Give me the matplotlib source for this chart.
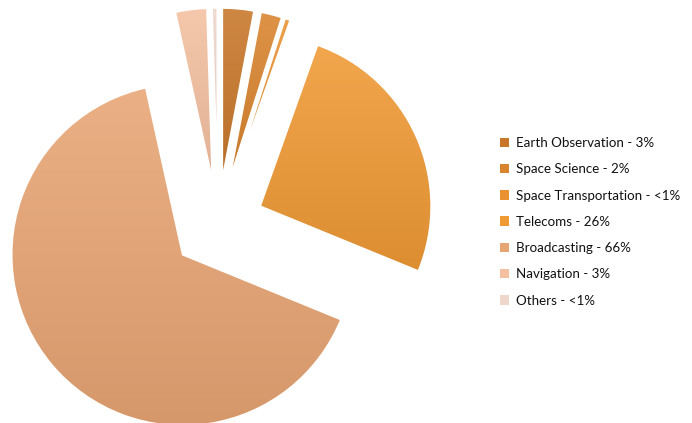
import matplotlib
matplotlib.use("Agg")
import matplotlib.pyplot as plt
import matplotlib.colors as mcolors
from matplotlib.patches import PathPatch
import numpy as np

categories = ["Earth Observation", "Space Science", "Space Transportation",
              "Telecoms", "Broadcasting", "Navigation", "Others"]
values = [3, 2, 0.5, 26, 66, 3, 0.5]
pct_labels = ["3%", "2%", "<1%", "26%", "66%", "3%", "<1%"]

colors = ["#C8772A", "#D9842E", "#EA9231", "#F09A35", "#E8A574", "#F4C0A0", "#EED6CA"]

fig = plt.figure(figsize=(6.92, 4.23), dpi=100)
ax = fig.add_axes([0, 0, 1, 1])
R = 171.0
cx, cy = 218.0, 225.0
xlim = (-cx / R, (692 - cx) / R)
ylim = ((cy - 423) / R, cy / R)

wedges, _ = ax.pie(values, colors=colors, startangle=90, counterclock=False,
                   explode=[0.27] * len(values), radius=1.0, center=(0, 0),
                   wedgeprops=dict(edgecolor="white", linewidth=1.2),
                   frame=True)
ax.set_xlim(*xlim)
ax.set_ylim(*ylim)
ax.set_aspect("auto")
ax.axis("off")

# soft vertical gradient on each wedge (lighter on top, darker at bottom)
for w, c in zip(wedges, colors):
    base = np.array(mcolors.to_rgb(c))
    top = base + (1 - base) * 0.12
    bot = base * 0.92
    t = np.linspace(0, 1, 256)[:, None]
    grad = top[None, :] * (1 - t) + bot[None, :] * t
    img = np.repeat(grad[:, None, :], 2, axis=1)
    verts = w.get_path().vertices
    x0, y0 = verts.min(axis=0)
    x1, y1 = verts.max(axis=0)
    im = ax.imshow(img, extent=(x0, x1, y0, y1), origin="upper",
                   aspect="auto", zorder=2, interpolation="bilinear")
    im.set_clip_path(w)
    ax.add_patch(PathPatch(w.get_path(), transform=w.get_transform(),
                           fill=False, edgecolor="white", linewidth=1.2,
                           zorder=3))

ax.set_xlim(*xlim)
ax.set_ylim(*ylim)
ax.set_aspect("auto")
ax.axis("off")

labels = [f"{c} - {p}" for c, p in zip(categories, pct_labels)]
leg = fig.legend(wedges, labels, loc="upper left",
                 bbox_to_anchor=(488 / 692, 1 - 125 / 423),
                 frameon=False, handlelength=0.7, handleheight=0.7,
                 handletextpad=0.5, labelspacing=1.07,
                 prop=dict(family="Lato", size=9.6))
for h in leg.legend_handles:
    h.set_edgecolor("none")
for t in leg.get_texts():
    t.set_color("#111111")

fig.savefig("out.png", dpi=100, facecolor="white")
